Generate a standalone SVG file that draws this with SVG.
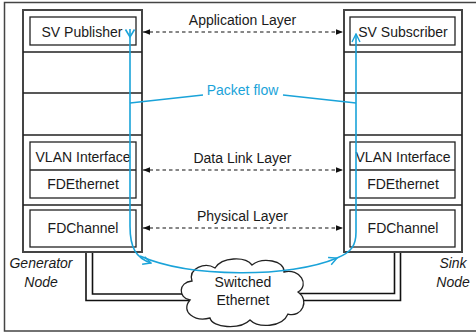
<svg xmlns="http://www.w3.org/2000/svg" width="476" height="334" viewBox="0 0 476 334">
<defs>
<style>
.t{font-family:"Liberation Sans",Arial,sans-serif;font-size:14px;fill:#1a1a1a;text-anchor:middle}
.it{font-style:italic}
.blue{fill:#1aa3d9}
.stack{fill:#fff;stroke:#444;stroke-width:2}
.div{stroke:#222;stroke-width:1.5;fill:none}
.box{fill:#fff;stroke:#222;stroke-width:1.3}
.dash{stroke:#111;stroke-width:1.2;stroke-dasharray:3.5,3;fill:none;marker-start:url(#ah);marker-end:url(#ah)}
.flow{stroke:#1aa3d9;stroke-width:1.6;fill:none}
.wire{stroke:#111;stroke-width:1.6;fill:none}
</style>
<marker id="ah" viewBox="0 0 10 10" refX="10" refY="5" markerWidth="7" markerHeight="7" markerUnits="userSpaceOnUse" orient="auto-start-reverse">
<path d="M0,1 L10,5 L0,9 Z" fill="#111"/>
</marker>
<marker id="oa" viewBox="0 0 10 10" refX="9" refY="5" markerWidth="10" markerHeight="10" markerUnits="userSpaceOnUse" orient="auto">
<path d="M1,1 L9,5 L1,9" fill="none" stroke="#1aa3d9" stroke-width="1.4"/>
</marker>
</defs>
<rect x="0" y="0" width="476" height="334" fill="#fff"/>
<path d="M476,2.5 L4.5,2.5 L4.5,331 L476,331" fill="none" stroke="#444" stroke-width="1.5"/>

<g id="connectors">
<path class="wire" d="M86,252 L86,300.5 L190,300.5"/>
<path class="wire" d="M92.5,252 L92.5,294 L186,294"/>
<path class="wire" d="M394.5,252 L394.5,293.5 L300,293.5"/>
<path class="wire" d="M400.5,252 L400.5,300.5 L302,300.5"/>
<path class="dash" d="M143,32 L343,32"/>
<path class="dash" d="M143,170 L343,170"/>
<path class="dash" d="M143,228 L343,228"/>
</g>

<g id="generator-node">
<rect class="stack" x="23" y="10" width="119" height="242"/>
<path class="div" d="M23,52 H142 M23,93 H142 M23,135 H142 M23,205 H142"/>
<rect class="box" x="30" y="17" width="106" height="28"/>
<text class="t" x="82" y="36.5">SV Publisher</text>
<rect class="box" x="30" y="142" width="106" height="56"/>
<path class="div" d="M30,170 H136"/>
<text class="t" x="83" y="162">VLAN Interface</text>
<text class="t" x="83" y="189">FDEthernet</text>
<rect class="box" x="30" y="210" width="106" height="37"/>
<text class="t" x="83" y="233">FDChannel</text>
<text class="t it" x="41" y="268">Generator</text>
<text class="t it" x="41" y="287">Node</text>
</g>

<g id="sink-node">
<rect class="stack" x="344" y="10" width="118" height="242"/>
<path class="div" d="M344,52 H462 M344,93 H462 M344,135 H462 M344,205 H462"/>
<rect class="box" x="350" y="17" width="105" height="28"/>
<text class="t" x="403" y="36.5">SV Subscriber</text>
<rect class="box" x="350" y="142" width="105" height="56"/>
<path class="div" d="M350,170 H455"/>
<text class="t" x="403" y="162">VLAN Interface</text>
<text class="t" x="403" y="189">FDEthernet</text>
<rect class="box" x="350" y="210" width="105" height="37"/>
<text class="t" x="403" y="233">FDChannel</text>
<text class="t it" x="453" y="268">Sink</text>
<text class="t it" x="453" y="287">Node</text>
</g>

<g id="switched-ethernet">
<path d="M190,300 C178,298 178,282 192,281 C188,268 205,262 215,268 C222,257 245,256 252,265 C262,257 285,260 284,272 C300,268 310,285 298,292 C310,300 302,318 288,314 C282,328 258,328 250,320 C240,330 212,328 210,318 C195,322 180,312 190,300 Z" fill="#fff" stroke="#222" stroke-width="1.3"/>
<text class="t" x="243" y="287">Switched</text>
<text class="t" x="243" y="305">Ethernet</text>
</g>

<g id="layer-labels">
<text class="t" x="242.5" y="25">Application Layer</text>
<text class="t" x="242.5" y="163">Data Link Layer</text>
<text class="t" x="242.5" y="221">Physical Layer</text>
</g>

<g id="packet-flow">
<path class="flow" d="M130,29 L130,226 C130,248 136,258 151,263" marker-end="url(#oa)"/>
<path class="flow" d="M125.5,29.5 L130,37 L134.5,29.5"/>
<path class="flow" d="M140,256 C190,278 290,278 337,258" marker-end="url(#oa)"/>
<path class="flow" d="M337,258 C352,252 356,245 356,232 L356,34" marker-end="url(#oa)"/>
<path class="flow" d="M130,103 L203,95 M283,95 L356,103"/>
<text class="t blue" x="242.5" y="95">Packet flow</text>
</g>
</svg>
